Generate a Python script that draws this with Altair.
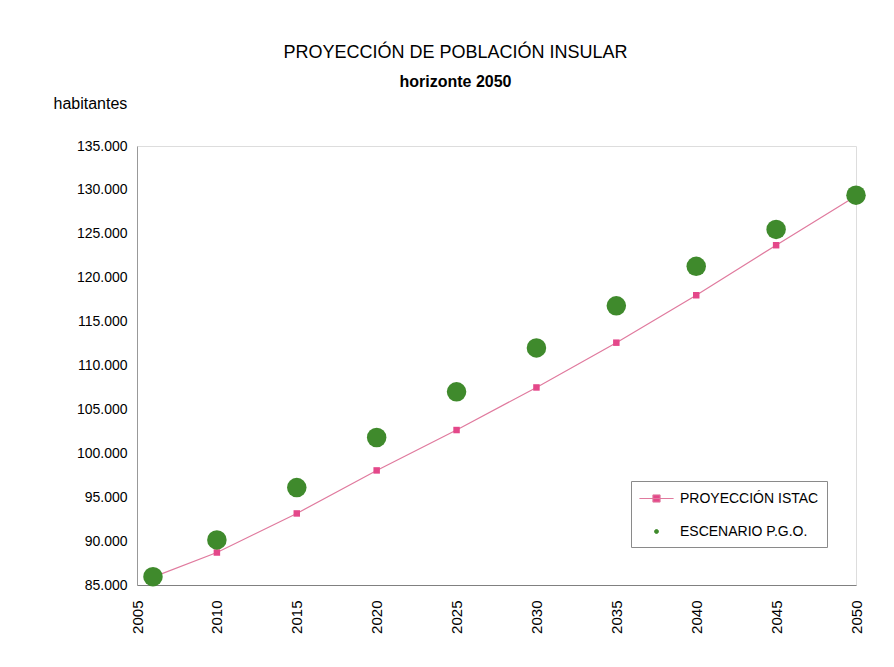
import altair as alt
import pandas as pd

# ---- data ----
years = [2006, 2010, 2015, 2020, 2025, 2030, 2035, 2040, 2045, 2050]
istac = [85900, 88700, 93150, 98050, 102650, 107500, 112600, 118000, 123700, 129300]
pgo = [85950, 90130, 96100, 101800, 107000, 112000, 116800, 121300, 125500, 129400]
x_ticks = [2005, 2010, 2015, 2020, 2025, 2030, 2035, 2040, 2045, 2050]
y_ticks = [85000, 90000, 95000, 100000, 105000, 110000, 115000, 120000, 125000, 130000, 135000]
series_names = ["PROYECCIÓN ISTAC", "ESCENARIO P.G.O."]

df = pd.DataFrame(
    {"year": years * 2,
     "value": istac + pgo,
     "series": [series_names[0]] * len(years) + [series_names[1]] * len(years)}
)

FONT = "Liberation Sans"
PINK_LINE = "#E07A9E"
PINK = "#E4488A"
GREEN = "#3F8A2C"

x_enc = alt.X("year:Q", scale=alt.Scale(domain=[2005, 2050], nice=False, zero=False),
              axis=alt.Axis(values=x_ticks, format="d", labelAngle=270, title=None,
                            ticks=False, grid=False, labelPadding=15, labelFontSize=15,
                            labelFont=FONT, labelColor="#000", domainColor="#808080"))
y_enc = alt.Y("value:Q", scale=alt.Scale(domain=[85000, 135000], nice=False, zero=False),
              axis=alt.Axis(values=y_ticks, ticks=False, grid=False, labelPadding=10,
                            labelExpr="replace(format(datum.value, ',.0f'), ',', '.')",
                            labelFontSize=14, labelFont=FONT, labelColor="#000",
                            domainColor="#999999",
                            title="habitantes", titleAngle=0, titleAlign="left",
                            titleBaseline="alphabetic", titleX=-84, titleY=-38,
                            titleFont=FONT, titleFontSize=16, titleFontWeight="normal",
                            titleColor="#000"))

base = alt.Chart(df)

line = base.transform_filter(alt.datum.series == series_names[0]).mark_line(
    color=PINK_LINE, strokeWidth=1.2).encode(x=x_enc, y=y_enc)

squares = base.transform_filter(alt.datum.series == series_names[0]).mark_point(
    shape="square", filled=True, size=42, color=PINK, opacity=1).encode(x=x_enc, y=y_enc)

circles = base.transform_filter(alt.datum.series == series_names[1]).mark_circle(
    size=380, color=GREEN, opacity=1).encode(x=x_enc, y=y_enc)

path_istac = "M-1.9,0H1.9M-0.4,-0.4H0.4V0.4H-0.4Z"
path_pgo = "M-0.22,0A0.22,0.22,0,1,0,0.22,0A0.22,0.22,0,1,0,-0.22,0Z"

legend = alt.Legend(title=None, orient="none", legendX=494, legendY=335,
                    strokeColor="#8a8a8a", padding=8, symbolSize=324, rowPadding=16,
                    symbolOffset=8, labelOffset=14, labelFont=FONT, labelFontSize=14,
                    labelColor="#000", symbolStrokeWidth=1)

legend_layer = base.transform_filter("false").mark_point(opacity=1, strokeWidth=1).encode(
    x=x_enc, y=y_enc,
    fill=alt.Fill("series:N", scale=alt.Scale(domain=series_names, range=[PINK, GREEN]), legend=legend),
    stroke=alt.Stroke("series:N", scale=alt.Scale(domain=series_names, range=[PINK_LINE, GREEN]), legend=legend),
    shape=alt.Shape("series:N", scale=alt.Scale(domain=series_names, range=[path_istac, path_pgo]), legend=legend),
)

chart = alt.layer(line, squares, circles, legend_layer).properties(
    width=719, height=439,
    autosize=alt.AutoSizeParams(type="none"),
    padding={"left": 129, "top": 138, "right": 30, "bottom": 74},
    title=alt.TitleParams(
        text="PROYECCIÓN DE POBLACIÓN INSULAR",
        subtitle="horizonte  2050",
        anchor="middle", frame="group", dx=-41, offset=5,
        font=FONT, fontSize=18, fontWeight="normal", color="#000",
        subtitleFont=FONT, subtitleFontSize=16, subtitleFontWeight="bold",
        subtitleColor="#000", subtitlePadding=12,
    ),
).configure_view(stroke="#b0b0b0", strokeWidth=1).configure(background="white")

chart.save("out.html", embed_options={"renderer": "svg", "actions": False})
